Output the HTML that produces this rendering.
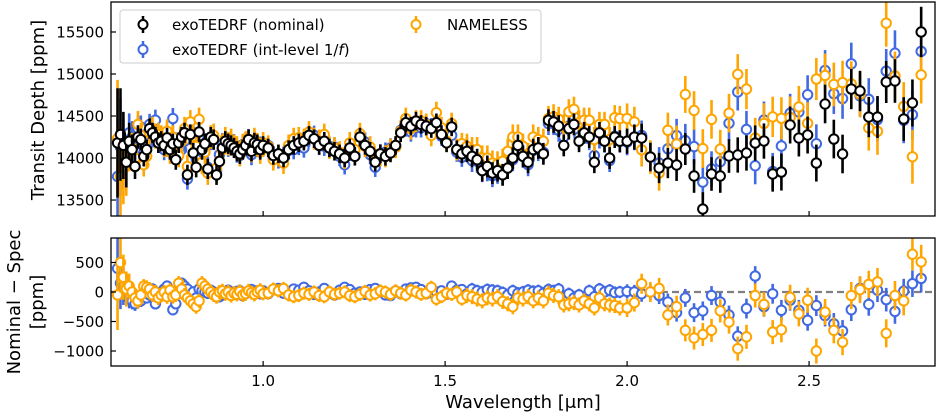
<!DOCTYPE html>
<html><head><meta charset="utf-8"><style>
html,body{margin:0;padding:0;background:#fff;}
svg{display:block;font-family:"DejaVu Sans","Liberation Sans",sans-serif;}
</style></head><body>
<svg id="chart" width="938" height="415" viewBox="0 0 938 415" xmlns="http://www.w3.org/2000/svg">
<rect x="0" y="0" width="938" height="415" fill="#fff"/>
<g id="top-marks"></g>
<g id="bot-marks"></g>
<rect x="111" y="2" width="824" height="214" fill="none" stroke="#000" stroke-width="1.3"/>
<rect x="111" y="238" width="824" height="128" fill="none" stroke="#000" stroke-width="1.3"/>
<g id="axes"></g>
<text transform="translate(44,110) rotate(-90)" text-anchor="middle" font-size="18">Transit Depth [ppm]</text>
<text transform="translate(20,302) rotate(-90)" text-anchor="middle" font-size="18">Nominal − Spec</text>
<text transform="translate(43,302) rotate(-90)" text-anchor="middle" font-size="18">[ppm]</text>
<text x="523" y="408" text-anchor="middle" font-size="18">Wavelength [μm]</text>
<g>
<rect x="120" y="10" width="421" height="53" rx="3" fill="#fff" fill-opacity="0.85" stroke="#ccc" stroke-width="1"/>
<g>
<line x1="143" y1="16" x2="143" y2="33" stroke="#000" stroke-width="2.5"/><circle cx="143" cy="24.5" r="4.5" fill="#fff" stroke="#000" stroke-width="2"/>
<text x="172" y="30" font-size="15">exoTEDRF (nominal)</text></g>
<g>
<line x1="143" y1="41" x2="143" y2="58" stroke="#4169e1" stroke-width="2.5"/><circle cx="143" cy="49.5" r="4.5" fill="#fff" stroke="#4169e1" stroke-width="2"/>
<text x="172" y="55" font-size="15">exoTEDRF (int-level 1/<tspan font-style="italic">f</tspan>)</text></g>
<g>
<line x1="416" y1="16" x2="416" y2="33" stroke="#ffa500" stroke-width="2.5"/><circle cx="416" cy="24.5" r="4.5" fill="#fff" stroke="#ffa500" stroke-width="2"/>
<text x="447" y="30" font-size="15">NAMELESS</text></g>
</g>
</svg>
<script>
const wavelengths=[0.600,0.608,0.616,0.624,0.632,0.640,0.648,0.656,0.664,0.672,0.680,0.688,0.696,0.704,0.712,0.720,0.728,0.736,0.744,0.752,0.760,0.768,0.776,0.784,0.792,0.800,0.808,0.816,0.824,0.832,0.840,0.848,0.856,0.864,0.872,0.880,0.888,0.896,0.904,0.912,0.920,0.928,0.936,0.944,0.952,0.960,0.968,0.976,0.984,0.992,
1.000,1.014,1.028,1.042,1.056,1.070,1.084,1.098,1.112,1.126,1.140,1.154,1.168,1.182,1.196,1.210,1.224,1.238,1.252,1.266,1.280,1.294,1.308,1.322,1.336,1.350,1.364,1.378,1.392,1.406,1.420,1.434,1.448,1.462,1.476,1.490,1.504,1.518,1.532,1.546,1.560,1.574,1.588,1.602,1.616,1.630,1.644,1.658,1.672,1.686,1.700,1.714,1.728,1.742,1.756,1.770,1.784,1.798,1.812,1.826,1.840,1.854,1.868,1.882,1.896,1.910,1.924,1.938,1.952,1.966,1.980,
2.000,2.020,2.040,2.064,2.088,2.112,2.136,2.160,2.184,2.208,2.232,2.256,2.280,2.304,2.328,2.352,2.376,2.400,2.424,2.448,2.472,2.496,2.520,2.544,2.568,2.592,2.616,2.640,2.664,2.688,2.712,2.736,2.760,2.784,2.808];
const nominalDepth=[14180,14280,14150,13950,14200,14100,13900,14250,14220,14020,14100,14350,14300,14250,14180,14200,14150,14240,14100,14170,13980,14180,14250,14300,13800,14280,14060,13890,14310,14100,14170,13870,14250,14220,13800,13960,14120,14200,14170,14150,14120,14080,14050,14100,14150,14220,14080,14180,14160,14100,
14150,14120,14030,14050,14000,14100,14150,14180,
14200,14270,14230,14150,14200,14120,14080,
14050,14000,14120,14020,14250,14150,14080,
13950,14050,14020,14060,14150,14300,14420,
14380,14440,14400,14380,14350,14420,14280,
14180,14370,14100,14050,14080,14020,13980,
13850,13900,13820,13850,13800,13880,14000,
14150,14020,13950,14100,14120,14050,14450,
14430,14380,14150,14350,14400,14200,14300,
14250,13950,14300,14200,14000,14250,14200,
14200,14250,14238,14012,13881,13940,13917,14107,13786,13393,13810,13786,14024,14036,14060,14178,14202,13810,13833,14393,14238,14274,13940,14643,14226,14048,14821,14798,14488,14488,14905,14917,14464,14655,15500];
const residBlue=[400,150,100,0,-100,-150,-200,-100,-150,0,-100,-50,50,-200,-100,0,50,100,-50,-300,-200,0,150,100,50,-50,0,-100,50,20,0,-20,30,0,-50,-80,-50,0,30,-20,-40,10,20,-60,-30,0,40,-10,20,-30,
20,-30,40,60,-20,10,50,30,
80,20,-40,0,60,-20,-50,
30,80,40,-20,0,-40,40,
60,0,-50,-60,20,-30,50,
70,80,40,-30,-10,0,20,
-40,100,30,40,-30,50,20,
0,40,30,20,-10,-50,20,
-20,0,30,10,20,-20,40,
20,50,-100,-30,-100,-50,-150,
20,-80,50,0,30,-10,0,
10,0,-30,0,-60,-170,-350,-100,-350,-320,-60,-170,-390,-750,-280,270,-250,-30,-310,-140,-310,-480,-230,-400,-540,-660,-300,60,-210,30,-130,-330,15,140,230];
const residNameless=[-50,500,250,50,100,0,-100,-150,-50,100,80,50,-50,0,-100,-50,0,-80,30,-80,-50,150,50,-50,-100,-150,-200,-250,-150,150,100,50,0,-50,-80,0,20,-30,0,-60,-20,-40,10,-50,-30,20,-10,-40,0,30,
-30,-20,50,20,60,-50,-80,-60,
-20,-40,0,-60,-80,0,-40,
-20,0,-60,-80,-40,10,-50,
-30,20,0,-40,20,-20,-50,
30,0,-40,-20,80,-120,-80,
-20,-40,0,-120,-60,-80,-120,
-150,-100,-120,-80,-160,-200,-250,
-100,-120,-80,-150,-100,-150,-20,
-60,-80,-220,-200,-180,-220,-150,
-200,-270,-100,-200,-220,-230,-270,
-270,-180,140,0,60,-390,-250,-650,-780,-720,-650,-320,-510,-960,-760,-60,-210,-680,-640,-90,-370,-140,-1000,-340,-650,-850,-60,40,130,170,-700,-60,-150,640,510];
const errNominal=[650,550,400,300,220,180,150,140,130,120,
120,120,120,120,120,120,120,120,120,120,
120,120,120,120,120,120,120,120,120,120,
120,120,120,120,120,120,120,120,120,120,
120,120,120,120,120,120,120,120,120,120,
110,110,110,110,110,110,110,110,110,110,
110,110,110,110,110,110,110,110,110,110,
110,110,110,110,110,110,110,110,110,110,
110,110,110,110,110,110,110,110,110,110,
130,130,130,130,130,130,130,130,130,130,
130,130,130,130,130,130,130,130,130,130,
130,130,130,130,130,130,130,130,130,130,130,
150,150,170,170,180,180,190,190,200,200,200,200,200,210,210,210,210,210,220,220,220,220,220,230,230,230,240,240,240,250,250,260,260,280,300];
const errNameless=[700,600,450,350,250,200,170,160,150,140,
140,140,140,140,140,140,140,140,140,140,
140,140,140,140,140,140,140,140,140,140,
140,140,140,140,140,140,140,140,140,140,
140,140,140,140,140,140,140,140,140,140,
130,130,130,130,130,130,130,130,130,130,
130,130,130,130,130,130,130,130,130,130,
130,130,130,130,130,130,130,130,130,130,
130,130,130,130,130,130,130,130,130,130,
150,150,150,150,150,150,150,150,150,150,
150,150,150,150,150,150,150,150,150,150,
150,150,150,150,150,150,150,150,150,150,150,
180,180,200,200,210,210,220,220,230,230,230,230,230,240,240,240,240,240,250,250,250,250,250,260,260,260,270,270,270,280,280,290,290,320,340];
const xTicks=[1.0,1.5,2.0,2.5];
const xTickLabels=["1.0","1.5","2.0","2.5"];
const yTopTicks=[13500,14000,14500,15000,15500];
const yBotTicks=[-1000,-500,0,500];
const yBotTickLabels=["−1000","−500","0","500"];

const X0=111,X1=935,TY0=2,TY1=216,BY0=238,BY1=366;
const WMIN=0.582,WMAX=2.846;
const TMIN=13310,TMAX=15857,BMIN=-1254,BMAX=915;
function xs(w){return X0+(w-WMIN)/(WMAX-WMIN)*(X1-X0);}
function yt(v){return TY1-(v-TMIN)/(TMAX-TMIN)*(TY1-TY0);}
function yb(v){return BY1-(v-BMIN)/(BMAX-BMIN)*(BY1-BY0);}
const NS="http://www.w3.org/2000/svg";
function mk(tag,attrs,parent){const e=document.createElementNS(NS,tag);for(const k in attrs)e.setAttribute(k,attrs[k]);parent.appendChild(e);return e;}

const C_BLUE="#4169e1",C_OR="#ffa500",C_BLK="#000";
const topG=document.getElementById('top-marks');
const botG=document.getElementById('bot-marks');

function clipY(v,lo,hi){return Math.max(lo,Math.min(hi,v));}
function drawPoint(parent,x,y,e1,e2,col,name,lo,hi){
  const g=mk('g',{},parent);
  
  
  const l=mk('line',{x1:x,x2:x,y1:clipY(e1,lo,hi),y2:clipY(e2,lo,hi),stroke:col,'stroke-width':2.6},g);
  
  
  if(y>=lo-3&&y<=hi+3){
    const c=mk('circle',{cx:x,cy:y,r:4.7,fill:'#fff',stroke:col,'stroke-width':2},g);
    
    
  }
}
for(let i=0;i<wavelengths.length;i++){
  const x=xs(wavelengths[i]);const v=nominalDepth[i]-residBlue[i];const e=errNominal[i]*1.05;
  drawPoint(topG,x,yt(v),yt(v+e),yt(v-e),C_BLUE,'int-level-point',TY0,TY1);
}
for(let i=0;i<wavelengths.length;i++){
  const x=xs(wavelengths[i]);const v=nominalDepth[i]-residNameless[i];const e=errNameless[i];
  drawPoint(topG,x,yt(v),yt(v+e),yt(v-e),C_OR,'nameless-point',TY0,TY1);
}
for(let i=0;i<wavelengths.length;i++){
  const x=xs(wavelengths[i]);const v=nominalDepth[i];const e=errNominal[i];
  drawPoint(topG,x,yt(v),yt(v+e),yt(v-e),C_BLK,'nominal-point',TY0,TY1);
}
const zl=mk('line',{x1:X0,x2:X1,y1:yb(0),y2:yb(0),stroke:'#808080','stroke-width':2.2,'stroke-dasharray':'7,4'},botG);


for(let i=0;i<wavelengths.length;i++){
  const x=xs(wavelengths[i]);const v=residBlue[i];const e=errNominal[i]*0.8;
  drawPoint(botG,x,yb(v),yb(v+e),yb(v-e),C_BLUE,'int-level-residual',BY0,BY1);
}
for(let i=0;i<wavelengths.length;i++){
  const x=xs(wavelengths[i]);const v=residNameless[i];const e=errNameless[i]*0.85;
  drawPoint(botG,x,yb(v),yb(v+e),yb(v-e),C_OR,'nameless-residual',BY0,BY1);
}
const ax=document.getElementById('axes');
xTicks.forEach((t,i)=>{
  const x=xs(t);
  const a=mk('line',{x1:x,x2:x,y1:TY1,y2:TY1-5,stroke:'#000','stroke-width':1.2},ax);
  
  
  const b=mk('line',{x1:x,x2:x,y1:BY1,y2:BY1-5,stroke:'#000','stroke-width':1.2},ax);
  
  
  const tx=mk('text',{x:x,y:386,'text-anchor':'middle','font-size':15},ax);
  tx.textContent=xTickLabels[i];
  
  
});
yTopTicks.forEach(t=>{
  const y=yt(t);
  const a=mk('line',{x1:X0,x2:X0+5,y1:y,y2:y,stroke:'#000','stroke-width':1.2},ax);
  
  
  const tx=mk('text',{x:104,y:y+5.5,'text-anchor':'end','font-size':15},ax);
  tx.textContent=String(t);
  
  
});
yBotTicks.forEach((t,i)=>{
  const y=yb(t);
  const a=mk('line',{x1:X0,x2:X0+5,y1:y,y2:y,stroke:'#000','stroke-width':1.2},ax);
  
  
  const tx=mk('text',{x:104,y:y+5.5,'text-anchor':'end','font-size':15},ax);
  tx.textContent=yBotTickLabels[i];
  
  
});
</script>
</body></html>
